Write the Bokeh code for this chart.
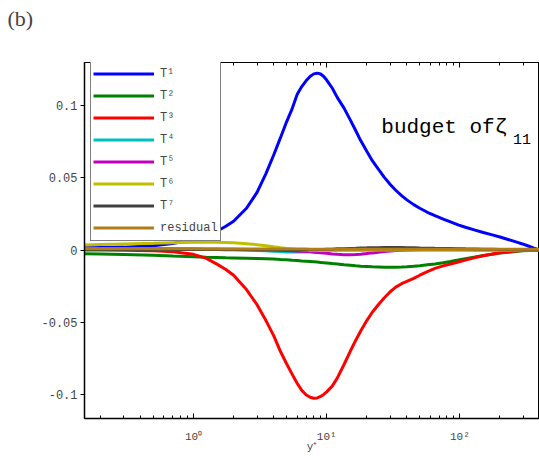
from bokeh.plotting import figure
from bokeh.models import Range1d, FixedTicker, LogAxis, Legend, LegendItem, Label
from bokeh.embed import file_html
from bokeh.resources import INLINE

# ---- data ----
y_plus = [0.152, 0.2, 0.3, 0.5, 0.7, 1.0, 1.25, 1.5, 1.75, 2,
          2.5, 3, 3.5, 4, 4.5, 5, 5.5, 6, 6.5, 7,
          7.5, 8, 8.5, 9, 9.5, 10, 11, 12, 13.5, 15,
          16.5, 18, 20, 22, 24.5, 27, 30, 33, 36.5, 40,
          45, 50, 57, 65, 75, 85, 97, 110, 130, 150,
          175, 200, 230, 260, 295, 330, 360, 395]

T1 = [0.0015, 0.0017, 0.002, 0.003, 0.0045, 0.0075, 0.010, 0.013, 0.0165, 0.020,
      0.029, 0.040, 0.053, 0.066, 0.078, 0.089, 0.098, 0.108, 0.1135, 0.1175,
      0.1205, 0.1223, 0.1228, 0.1222, 0.1205, 0.118, 0.1125, 0.106, 0.0985, 0.0905,
      0.083, 0.076, 0.0685, 0.062, 0.056, 0.0506, 0.0455, 0.0415, 0.0378, 0.0348,
      0.0315, 0.029, 0.0262, 0.0238, 0.0215, 0.0195, 0.0175, 0.0158, 0.0138, 0.0122,
      0.0105, 0.009, 0.0073, 0.0058, 0.0042, 0.0026, 0.0013, 0.0]
T2 = [-0.0026, -0.0028, -0.0032, -0.0037, -0.0042, -0.0047, -0.005, -0.0052, -0.0054, -0.0055,
      -0.0057, -0.0059, -0.0061, -0.0063, -0.0066, -0.0068, -0.0071, -0.0073, -0.0076, -0.0078,
      -0.008, -0.0082, -0.0084, -0.0086, -0.0088, -0.009, -0.0094, -0.0097, -0.0102, -0.0106,
      -0.011, -0.0113, -0.0115, -0.0117, -0.0118, -0.0119, -0.0119, -0.0119, -0.0118, -0.0116,
      -0.0113, -0.0109, -0.0103, -0.0097, -0.0089, -0.008, -0.007, -0.006, -0.0048, -0.0038,
      -0.0029, -0.0021, -0.0015, -0.001, -0.0006, -0.0003, -0.0001, 0.0]
T3 = [0.0, 0.0, -0.0002, -0.0005, -0.0012, -0.003, -0.0058, -0.0098, -0.0135, -0.0175,
      -0.0275, -0.038, -0.049, -0.0595, -0.0705, -0.079, -0.0862, -0.0925, -0.0975, -0.1005,
      -0.1022, -0.1029, -0.1027, -0.1017, -0.1003, -0.0985, -0.0945, -0.089, -0.0795, -0.0705,
      -0.0628, -0.0562, -0.049, -0.0432, -0.0378, -0.0333, -0.0290, -0.0258, -0.0234, -0.0218,
      -0.0197, -0.0175, -0.015, -0.0128, -0.011, -0.0097, -0.0083, -0.007, -0.0053, -0.004,
      -0.0028, -0.0019, -0.0012, -0.0007, -0.0004, -0.0002, -0.0001, 0.0]
T4 = [0.0008, 0.0008, 0.0008, 0.0008, 0.0008, 0.0007, 0.0006, 0.0005, 0.0004, 0.0003,
      0.0, -0.0003, -0.0006, -0.0009, -0.0011, -0.0013, -0.0014, -0.0014, -0.0013, -0.0012,
      -0.0011, -0.0009, -0.0008, -0.0006, -0.0005, -0.0004, -0.0002, -0.0001, 0.0, 0.0,
      0.0, 0.0, 0.0, 0.0, 0.0, 0.0, 0.0, 0.0, 0.0, 0.0,
      0.0, 0.0, 0.0, 0.0, 0.0, 0.0, 0.0, 0.0, 0.0, 0.0,
      0.0, 0.0, 0.0, 0.0, 0.0, 0.0, 0.0, 0.0]
T5 = [0.0005, 0.0005, 0.0005, 0.0005, 0.0005, 0.0005, 0.0005, 0.0005, 0.0005, 0.0005,
      0.0004, 0.0003, 0.0001, 0.0, -0.0001, -0.0003, -0.0005, -0.0007, -0.0009, -0.0011,
      -0.0013, -0.0015, -0.0017, -0.0019, -0.0021, -0.0023, -0.0027, -0.003, -0.0033, -0.0033,
      -0.0031, -0.0029, -0.0025, -0.002, -0.0015, -0.0011, -0.0007, -0.0004, -0.0002, 0.0,
      0.0002, 0.0003, 0.0004, 0.0004, 0.0004, 0.0004, 0.0003, 0.0003, 0.0002, 0.0002,
      0.0001, 0.0001, 0.0, 0.0, 0.0, 0.0, 0.0, 0.0]
T6 = [0.0035, 0.0038, 0.0042, 0.0047, 0.0051, 0.0054, 0.0055, 0.0054, 0.0052, 0.005,
      0.0044, 0.0037, 0.0029, 0.0022, 0.0016, 0.0011, 0.0007, 0.0004, 0.0002, 0.0,
      -0.0001, -0.0002, -0.0002, -0.0003, -0.0003, -0.0003, -0.0003, -0.0003, -0.0002, -0.0002,
      -0.0001, -0.0001, 0.0, 0.0, 0.0, 0.0, 0.0, 0.0, 0.0, 0.0,
      0.0, 0.0, 0.0, 0.0, 0.0, 0.0, 0.0, 0.0, 0.0, 0.0,
      0.0, 0.0, 0.0, 0.0, 0.0, 0.0, 0.0, 0.0]
T7 = [0.0003, 0.0003, 0.0003, 0.0003, 0.0003, 0.0003, 0.0003, 0.0003, 0.0002, 0.0002,
      0.0002, 0.0002, 0.0002, 0.0002, 0.0002, 0.0002, 0.0002, 0.0002, 0.0002, 0.0002,
      0.0003, 0.0003, 0.0003, 0.0004, 0.0004, 0.0005, 0.0006, 0.0008, 0.0009, 0.0011,
      0.0012, 0.0014, 0.0015, 0.0016, 0.0016, 0.0017, 0.0017, 0.0017, 0.0017, 0.0016,
      0.0015, 0.0014, 0.0013, 0.0012, 0.0011, 0.001, 0.0009, 0.0008, 0.0007, 0.0006,
      0.0005, 0.0004, 0.0003, 0.0003, 0.0002, 0.0001, 0.0001, 0.0]
residual = [0.0008, 0.0008, 0.0008, 0.0008, 0.0008, 0.0008, 0.0007, 0.0007, 0.0007, 0.0007,
            0.0007, 0.0007, 0.0007, 0.0007, 0.0007, 0.0007, 0.0007, 0.0007, 0.0007, 0.0007,
            0.0006, 0.0006, 0.0006, 0.0006, 0.0006, 0.0006, 0.0006, 0.0006, 0.0006, 0.0006,
            0.0006, 0.0006, 0.0006, 0.0006, 0.0006, 0.0006, 0.0006, 0.0006, 0.0006, 0.0006,
            0.0005, 0.0005, 0.0005, 0.0005, 0.0005, 0.0005, 0.0005, 0.0005, 0.0005, 0.0005,
            0.0005, 0.0005, 0.0005, 0.0005, 0.0005, 0.0005, 0.0005, 0.0005]

series = [T1, T2, T3, T4, T5, T6, T7, residual]
series_labels = ["T\u00b9", "T\u00b2", "T\u00b3", "T\u2074", "T\u2075", "T\u2076", "T\u2077", "residual"]
series_colors = ["#0000ff", "#008000", "#ff0000", "#00bfbf", "#bf00bf", "#bfbf00", "#404040", "#b07d1a"]

x_major = [0.1, 1, 10, 100, 1000]
x_labels = {1: "10\u2070", 10: "10\u00b9", 100: "10\u00b2"}
y_major = [-0.1, -0.05, 0, 0.05, 0.1]
y_labels = {-0.1: "-0.1", -0.05: "-0.05", 0: "0", 0.05: "0.05", 0.1: "0.1"}

panel_tag = "(b)"
annot_text = "budget of\u03b6"
annot_sub = "11"
annot_x, annot_y = 25.7, 0.0849
annot_sub_x, annot_sub_y = 250, 0.0774

MONO = "Liberation Mono"

X0, X1 = 0.152, 396
Y0, Y1 = -0.117, 0.1302
W, H = 539, 475
BL, BR, BT, BB = 84, 0, 62, 57
FW, FH = W - BL - BR, H - BT - BB

p = figure(width=W, height=H, x_axis_type="log",
           x_range=Range1d(X0, X1), y_range=Range1d(Y0, Y1),
           output_backend="svg", toolbar_location=None,
           min_border_left=BL, min_border_right=BR, min_border_top=BT, min_border_bottom=BB)

# panel tag "(b)" as the plot title, shifted to the page's left edge
p.title.text = panel_tag
p.title.text_font = "Liberation Serif"
p.title.text_font_size = "22px"
p.title.text_font_style = "normal"
p.title.align = "left"
p.title.offset = -77
p.title.standoff = 4

p.xgrid.visible = False
p.ygrid.visible = False
p.outline_line_color = "black"
p.outline_line_width = 1
p.background_fill_color = "white"
p.border_fill_color = "white"

minor = []
for d in [0.1, 1, 10, 100]:
    for m in range(2, 10):
        minor.append(d * m)
xt = FixedTicker(ticks=x_major, minor_ticks=minor)

xa = p.xaxis[0]
xa.ticker = xt
xa.major_label_overrides = x_labels
xa.major_tick_in = 5
xa.major_tick_out = 0
xa.minor_tick_in = 3
xa.minor_tick_out = 0
xa.major_label_standoff = 12
xa.major_label_text_font = MONO
xa.major_label_text_font_size = "11px"
xa.axis_label = "y\u207a"
xa.axis_label_text_font = MONO
xa.axis_label_text_font_style = "normal"
xa.axis_label_text_font_size = "11px"
xa.axis_label_standoff = -5
xa.axis_line_width = 1.5

# mirrored top axis: ticks only (labels invisible, used as spacer below the title)
top = LogAxis(ticker=xt, major_label_text_alpha=0, major_label_text_font_size="8px",
              major_tick_in=5, major_tick_out=0,
              minor_tick_in=3, minor_tick_out=0, major_label_standoff=0, axis_line_width=1,
              axis_label="\u00b7", axis_label_text_alpha=0, axis_label_text_font_size="10px",
              axis_label_standoff=16)
p.add_layout(top, "above")

ya = p.yaxis[0]
ya.ticker = FixedTicker(ticks=y_major, minor_ticks=[])
ya.major_label_overrides = y_labels
ya.major_tick_in = 0
ya.major_tick_out = 4
ya.minor_tick_in = 0
ya.minor_tick_out = 0
ya.major_label_standoff = 3
ya.major_label_text_font = MONO
ya.major_label_text_font_size = "12px"
ya.axis_line_width = 1.5

items = []
for ys, lab, col in zip(series, series_labels, series_colors):
    r = p.line(x=y_plus, y=ys, line_color=col, line_width=3)
    items.append(LegendItem(label=lab, renderers=[r]))

LEG_PAD, LEG_ROW, LEG_SP = 2, 21, 1
leg_h = 2 * LEG_PAD + len(items) * LEG_ROW + (len(items) - 1) * LEG_SP
legend = Legend(items=items, location=(6, FH - leg_h), padding=LEG_PAD, spacing=LEG_SP,
                glyph_width=61, glyph_height=LEG_ROW, label_height=LEG_ROW, label_standoff=6,
                label_text_font=MONO, label_text_font_size="12px",
                border_line_color="black", border_line_width=1,
                background_fill_color="white", background_fill_alpha=1)
p.add_layout(legend)

p.add_layout(Label(x=annot_x, y=annot_y, text=annot_text, text_font=MONO,
                   text_font_size="21px", text_baseline="alphabetic", text_color="black"))
p.add_layout(Label(x=annot_sub_x, y=annot_sub_y, text=annot_sub, text_font=MONO,
                   text_font_size="15px", text_baseline="alphabetic", text_color="black"))

open("out.html", "w").write(file_html(p, INLINE))
